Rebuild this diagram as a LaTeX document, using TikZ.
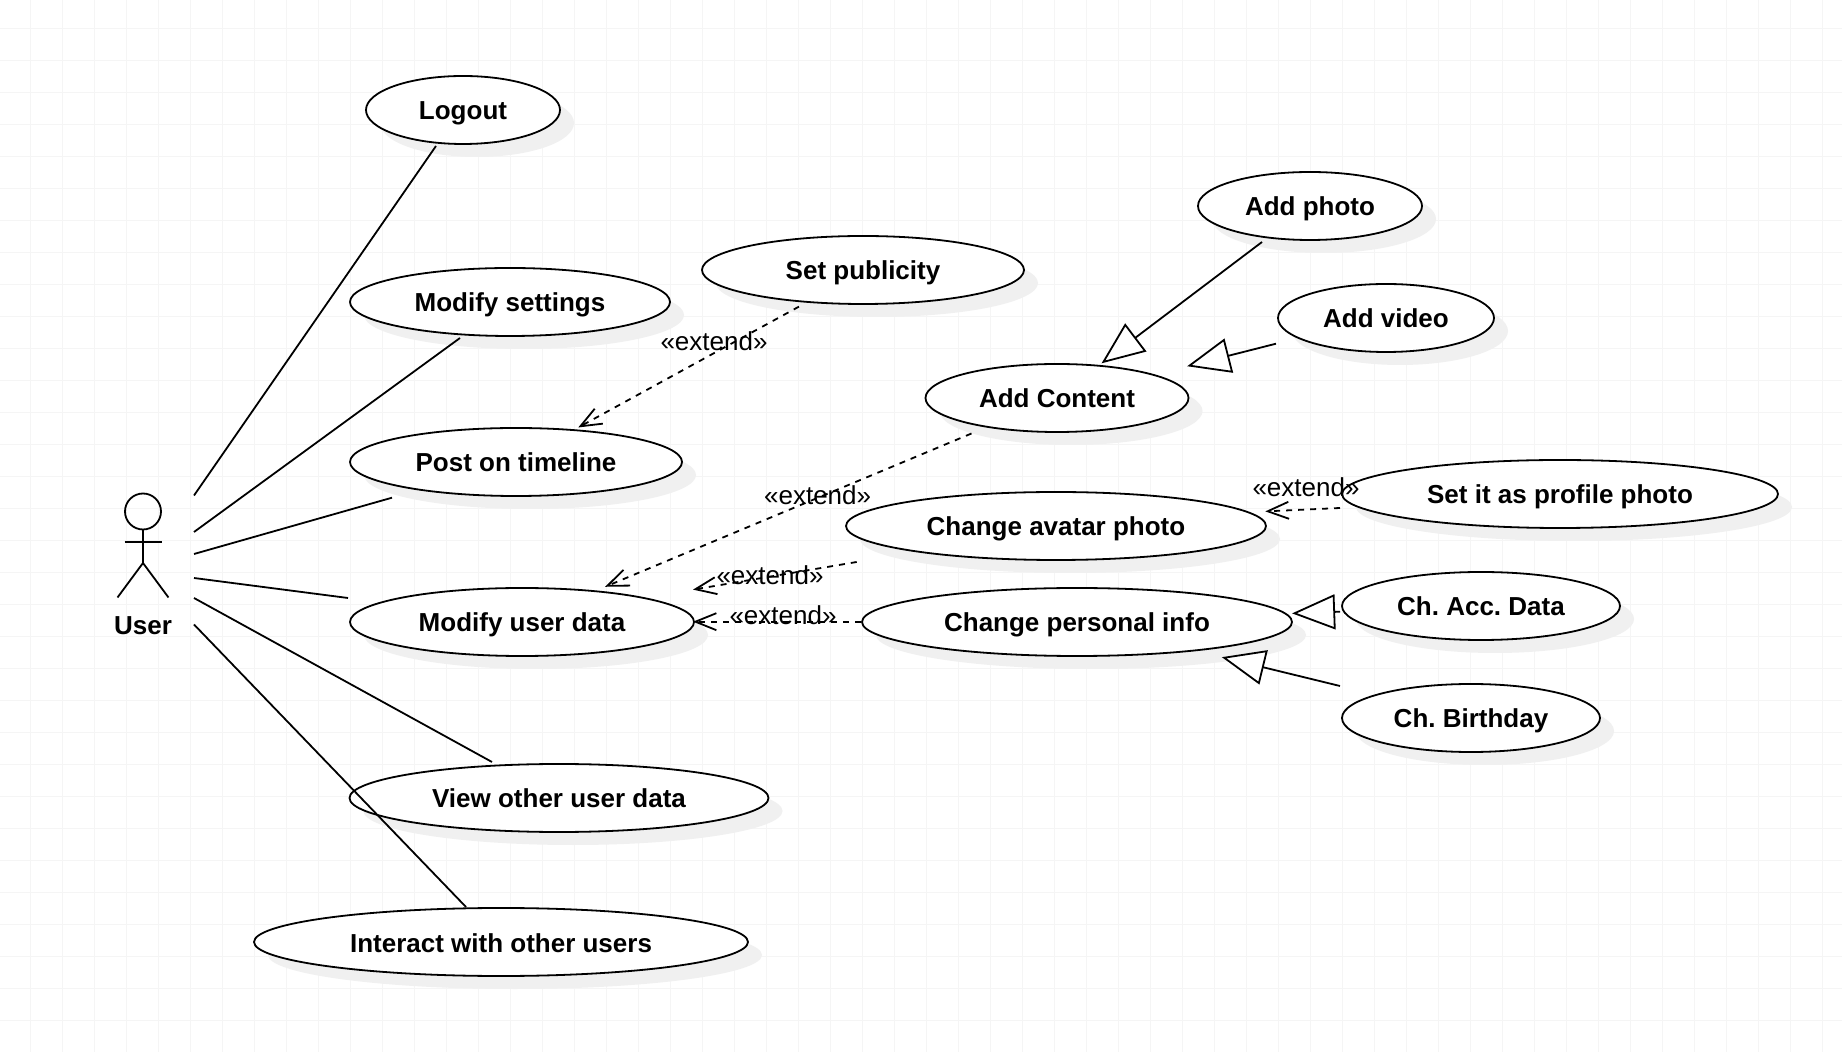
\documentclass[tikz,border=0pt]{standalone}
\usepackage{fontspec}
\setmainfont{Liberation Sans}
\usetikzlibrary{arrows.meta,shapes.geometric,shadows}
\definecolor{gridc}{HTML}{F5F5F5}
\definecolor{shadowc}{HTML}{F0F0F0}
\tikzset{
  usecase/.style={ellipse,draw=black,line width=0.9pt,fill=white,inner sep=0pt,outer sep=0pt,
    minimum width=#1,text height=10pt,text depth=0pt,minimum height=34pt,
    font=\fontsize{13}{15}\selectfont\bfseries\frenchspacing,
    general shadow={shadow xshift=7pt,shadow yshift=-6.5pt,fill=shadowc}},
  assoc/.style={line width=0.9pt,draw=black},
  extendline/.style={line width=0.9pt,draw=black,dash pattern=on 3pt off 3pt,shorten >=-1pt,
    -{Straight Barb[length=10.5pt,width=8.5pt,line cap=butt,line join=miter]}},
  general/.style={line width=0.9pt,draw=black,shorten >=-1.1pt,
    -{Triangle[open,fill=white,length=21.5pt,width=17.5pt,line join=miter]}},
  extlabel/.style={font=\fontsize{13}{15}\selectfont,inner sep=0pt,text height=9pt,text depth=0pt},
  actorline/.style={line width=0.9pt,draw=black},
  gridline/.style={line width=0.5pt,draw=gridc}
}
\begin{document}
\begin{tikzpicture}[x=0.5pt,y=-0.5pt]
\useasboundingbox (0,0) rectangle (1842,1052);
\fill[white] (0,0) rectangle (1842,1052);
\foreach \k in {0,...,56} \draw[gridline] ({30.7+32*\k},0) -- ({30.7+32*\k},1052);
\foreach \k in {0,...,32} \draw[gridline] (0,{28.7+32*\k}) -- (1842,{28.7+32*\k});

% use cases
\node[usecase=194*0.5pt] (logout) at (463,110) {Logout};
\node[usecase=320*0.5pt] (settings) at (510,302) {Modify settings};
\node[usecase=322*0.5pt] (publicity) at (863,270) {Set publicity};
\node[usecase=332*0.5pt] (timeline) at (516,462) {Post on timeline};
\node[usecase=263*0.5pt] (content) at (1057,398) {Add Content};
\node[usecase=224*0.5pt] (photo) at (1310,206) {Add photo};
\node[usecase=216*0.5pt] (video) at (1386,318) {Add video};
\node[usecase=436*0.5pt] (profile) at (1560,494) {Set it as profile photo};
\node[usecase=420*0.5pt] (avatar) at (1056,526) {Change avatar photo};
\node[usecase=344*0.5pt] (userdata) at (522,622) {Modify user data};
\node[usecase=430*0.5pt] (personal) at (1077,622) {Change personal info};
\node[usecase=278*0.5pt] (account) at (1481,606) {Ch. Acc. Data};
\node[usecase=258*0.5pt] (birthday) at (1471,718) {Ch. Birthday};
\node[usecase=419*0.5pt] (viewother) at (559,798) {View other user data};
\node[usecase=494*0.5pt] (interact) at (501,942) {Interact with other users};

% actor
\draw[actorline] (143,511.5) circle[radius=18];
\draw[actorline] (143,529.5) -- (143,563);
\draw[actorline] (124.5,541.7) -- (161.5,541.7);
\draw[actorline] (117.5,597.5) -- (143,563) -- (168.5,597.5);
\node[font=\fontsize{13}{15}\selectfont\bfseries,inner sep=0pt,text height=9pt,text depth=0pt] (user) at (143,626) {User};

\coordinate (p1) at (194,495.5);
\coordinate (p2) at (194,532);
\coordinate (p3) at (194,554);
\coordinate (p4) at (194,578);
\coordinate (p5) at (194,598);
\coordinate (p6) at (194,624.5);

% associations
\draw[assoc] (p1) -- ([shift={(-27,36)}]logout.center);
\draw[assoc] (p2) -- ([shift={(-50,36)}]settings.center);
\draw[assoc] (p3) -- ([shift={(-124,35.7)}]timeline.center);
\draw[assoc] (p4) -- ([shift={(-174,-24)}]userdata.center);
\draw[assoc] (p5) -- ([shift={(-67,-36)}]viewother.center);
\draw[assoc] (p6) -- ([shift={(-35,-35)}]interact.center);

% extend
\draw[extendline] ([shift={(-64,36.6)}]publicity.center) -- ([shift={(64,-35.5)}]timeline.center);
\draw[extendline] ([shift={(-85.5,35.5)}]content.center) -- ([shift={(85,-36)}]userdata.center);
\draw[extendline] ([shift={(-199.3,36)}]avatar.center) -- ([shift={(173,-32.7)}]userdata.center);
\draw[extendline] ([shift={(-216.3,-0.3)}]personal.center) -- ([shift={(173,-0.3)}]userdata.center);
\draw[extendline] ([shift={(-220,14)}]profile.center) -- ([shift={(211.3,-14.7)}]avatar.center);

\node[extlabel] (l1) at (714,342) {«extend»};
\node[extlabel] (l2) at (817.6,496) {«extend»};
\node[extlabel] (l3) at (770,575.5) {«extend»};
\node[extlabel] (l4) at (783,616) {«extend»};
\node[extlabel] (l5) at (1306,487.7) {«extend»};

% generalisation
\draw[general] ([shift={(-48,36)}]photo.center) -- ([shift={(46.3,-36)}]content.center);
\draw[general] ([shift={(-110,25.7)}]video.center) -- ([shift={(132.3,-32.3)}]content.center);
\draw[general] ([shift={(-141,5.7)}]account.center) -- ([shift={(217.3,-8.7)}]personal.center);
\draw[general] ([shift={(-131,-32)}]birthday.center) -- ([shift={(147,35.7)}]personal.center);
\end{tikzpicture}
\end{document}
